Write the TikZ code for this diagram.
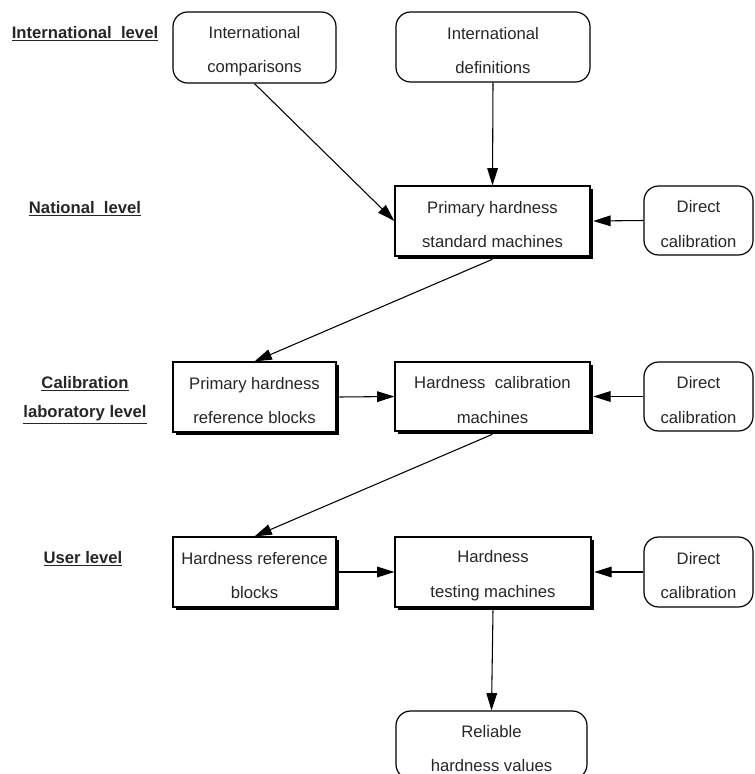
\documentclass[tikz,border=0pt]{standalone}
\usepackage{fontspec}
\setmainfont{Liberation Sans}
\usetikzlibrary{arrows.meta,shadows}
\newcommand\fls{\rule{0pt}{14.5pt}}
\begin{document}
\begin{tikzpicture}[x=0.75pt,y=-0.75pt,
  txt/.style={font={\fontsize{12.5}{26}\selectfont}, align=center, text=black!85},
  rbox/.style={txt, draw, line width=0.9pt, rounded corners=11pt, inner sep=0pt},
  sbox/.style={txt, draw, line width=0.9pt, fill=white, inner sep=0pt,
     drop shadow={shadow xshift=2.4pt, shadow yshift=-2.4pt, opacity=1, fill=black}},
  lvl/.style={font={\fontsize{12.5}{22}\selectfont\bfseries}, align=center, text=black!85},
  arr/.style={line width=0.8pt, -{Triangle[length=13pt,width=8pt]}},
]
\useasboundingbox (0,0) rectangle (754,774);
% level labels
\node[lvl] (l1) at (85,34) {\underline{International\ \ level}};
\node[lvl] (l2) at (85,209) {\underline{National\ \ level}};
\node[lvl] (l3) at (85,400) {\underline{Calibration}\\\underline{laboratory level}};
\node[lvl] (l4) at (83,559) {\underline{User level}};
% boxes
\node[rbox, minimum width=163*0.75pt, minimum height=71*0.75pt] (comp) at (254.5,47.5) {\fls International\\comparisons};
\node[rbox, minimum width=194*0.75pt, minimum height=70*0.75pt] (defs) at (493,47) {\fls International\\definitions};
\node[sbox, minimum width=195*0.75pt, minimum height=70*0.75pt] (psm) at (492.5,221) {\fls Primary hardness\\standard machines};
\node[rbox, minimum width=109*0.75pt, minimum height=69*0.75pt] (dc1) at (698.5,220.5) {\fls Direct\\calibration};
\node[sbox, minimum width=163*0.75pt, minimum height=70*0.75pt] (prb) at (254.5,397) {\fls Primary hardness\\reference blocks};
\node[sbox, minimum width=195*0.75pt, minimum height=69*0.75pt] (hcm) at (492.5,396.5) {\fls Hardness\ \ calibration\\machines};
\node[rbox, minimum width=109*0.75pt, minimum height=69*0.75pt] (dc2) at (698.5,396.5) {\fls Direct\\calibration};
\node[sbox, minimum width=163*0.75pt, minimum height=70*0.75pt] (hrb) at (254.5,572) {\fls Hardness reference\\blocks};
\node[sbox, minimum width=196*0.75pt, minimum height=70*0.75pt] (htm) at (493,572) {\fls Hardness\\testing machines};
\node[rbox, minimum width=109*0.75pt, minimum height=70*0.75pt] (dc3) at (698.5,572) {\fls Direct\\calibration};
\node[rbox, minimum width=191*0.75pt, minimum height=68*0.75pt] (rel) at (491.5,745) {\fls Reliable\\hardness values};
% connectors
\draw[arr] (comp.south) -- (psm.west);
\draw[arr] (defs.south) -- (psm.north);
\draw[arr] (dc1.west) -- ([xshift=2pt]psm.east);
\draw[arr] ([yshift=-2pt]psm.south) -- (prb.north);
\draw[arr] ([xshift=2pt]prb.east) -- (hcm.west);
\draw[arr] (dc2.west) -- ([xshift=2pt]hcm.east);
\draw[arr] ([yshift=-2pt]hcm.south) -- (hrb.north);
\draw[arr] ([xshift=2pt]hrb.east) -- (htm.west);
\draw[arr] (dc3.west) -- ([xshift=2pt]htm.east);
\draw[arr] ([yshift=-2pt]htm.south) -- (rel.north);
\end{tikzpicture}
\end{document}
